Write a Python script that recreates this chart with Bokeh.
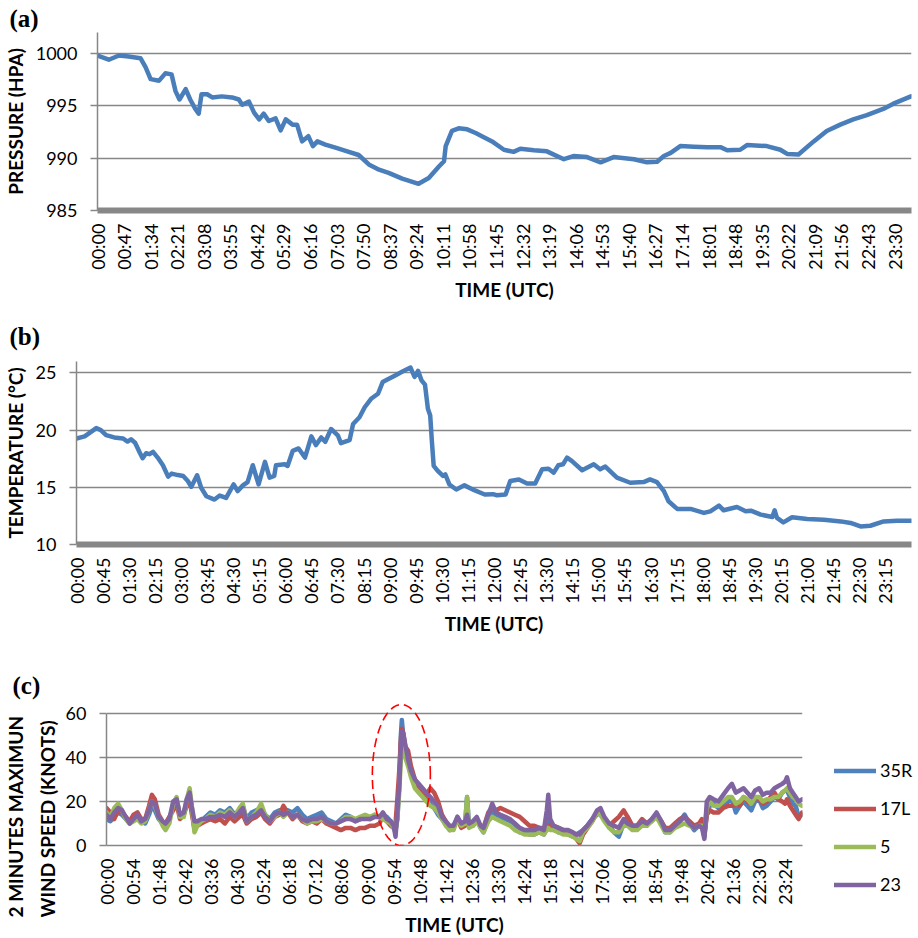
import numpy as np
from bokeh.plotting import figure
from bokeh.layouts import column, row
from bokeh.models import Range1d, FixedTicker, Title, Legend, LegendItem, PolyAnnotation
from bokeh.embed import file_html
from bokeh.resources import INLINE

# ---------------- data (minutes after 00:00 UTC) ----------------
pressure_time = [0, 20, 38, 55, 76, 85, 94, 109, 120, 131,
                 138, 145, 156, 164, 173, 179, 184, 194, 203, 220,
                 238, 250, 256, 268, 277, 286, 294, 303, 315, 324,
                 333, 345, 353, 362, 373, 381, 389, 403, 421, 439,
                 462, 480, 498, 515, 539, 568, 586, 604, 613, 616,
                 627, 639, 654, 669, 680, 698, 719, 736, 748, 772,
                 795, 825, 842, 866, 890, 913, 949, 972, 990, 1002,
                 1014, 1031, 1055, 1079, 1102, 1114, 1137, 1149, 1184, 1208,
                 1220, 1240, 1267, 1290, 1314, 1337, 1361, 1390, 1408, 1439]
pressure_hpa = [999.8, 999.4, 999.8, 999.7, 999.55, 998.7, 997.55, 997.4, 998.1, 998.0,
                996.4, 995.6, 996.6, 995.6, 994.7, 994.25, 996.1, 996.1, 995.8, 995.9,
                995.8, 995.6, 995.1, 995.4, 994.35, 993.7, 994.25, 993.55, 993.8, 992.65,
                993.7, 993.2, 993.2, 991.6, 992.1, 991.15, 991.6, 991.3, 991.0, 990.7,
                990.3, 989.4, 988.9, 988.6, 988.05, 987.55, 988.1, 989.2, 989.7, 991.15,
                992.6, 992.85, 992.75, 992.4, 992.1, 991.6, 990.8, 990.6, 990.9, 990.75,
                990.65, 989.9, 990.2, 990.1, 989.6, 990.1, 989.9, 989.6, 989.65, 990.2,
                990.5, 991.15, 991.1, 991.05, 991.05, 990.75, 990.8, 991.25, 991.15, 990.8,
                990.4, 990.35, 991.6, 992.6, 993.2, 993.7, 994.1, 994.7, 995.2, 995.9]

temp_time = [0, 14, 22, 34, 42, 51, 65, 80, 88, 94,
             101, 109, 114, 120, 126, 132, 140, 149, 158, 164,
             175, 184, 192, 198, 208, 215, 224, 238, 247, 258,
             271, 278, 287, 295, 304, 314, 325, 333, 341, 344,
             359, 364, 373, 383, 394, 405, 413, 422, 429, 439,
             451, 456, 471, 477, 488, 497, 508, 520, 528, 537,
             548, 563, 576, 583, 589, 595, 601, 606, 610, 613,
             616, 623, 632, 636, 643, 655, 669, 686, 704, 718,
             725, 740, 748, 763, 777, 791, 803, 814, 823, 831,
             839, 846, 854, 872, 892, 903, 912, 932, 955, 978,
             989, 1001, 1013, 1021, 1036, 1059, 1082, 1093, 1108, 1116,
             1139, 1154, 1163, 1180, 1200, 1204, 1208, 1219, 1234, 1260,
             1289, 1318, 1335, 1352, 1369, 1392, 1415, 1439]
temp_c = [19.27, 19.45, 19.74, 20.18, 20.0, 19.57, 19.36, 19.27, 19.0, 19.2,
          18.9, 18.04, 17.54, 17.98, 17.9, 18.1, 17.6, 16.93, 15.93, 16.2,
          16.07, 15.99, 15.55, 15.05, 16.05, 14.96, 14.22, 13.93, 14.28, 14.08,
          15.25, 14.67, 15.17, 15.46, 16.93, 15.25, 17.22, 15.84, 15.99, 16.93,
          17.01, 16.87, 18.19, 18.4, 17.6, 19.45, 18.69, 19.36, 18.98, 20.1,
          19.51, 18.86, 19.13, 20.54, 21.12, 22.0, 22.74, 23.18, 24.2, 24.44,
          24.74, 25.15, 25.47, 24.65, 25.18, 24.35, 23.97, 21.86, 21.27, 18.92,
          16.87, 16.43, 15.99, 16.13, 15.25, 14.81, 15.17, 14.75, 14.37, 14.4,
          14.31, 14.37, 15.55, 15.69, 15.34, 15.34, 16.57, 16.63, 16.28, 16.93,
          17.01, 17.6, 17.31, 16.49, 17.01, 16.57, 16.81, 15.84, 15.4, 15.46,
          15.69, 15.46, 14.67, 13.78, 13.11, 13.11, 12.76, 12.9, 13.4, 12.99,
          13.28, 12.9, 12.96, 12.61, 12.4, 12.99, 12.32, 11.93, 12.38, 12.23,
          12.17, 12.02, 11.88, 11.58, 11.64, 12.02, 12.08, 12.08]

wind_time = [0, 8, 16, 24, 32, 40, 48, 56, 64, 72, 80, 88, 94, 100, 108, 116, 122, 130, 138, 145,
             152, 160, 166, 172, 176, 182, 188, 196,
             205, 215, 225, 235, 245, 255, 265, 275, 282, 290, 300, 310, 320, 328, 338, 348, 358, 366,
             375, 385, 395, 405, 415, 425, 435, 445, 455, 465, 475, 485, 495, 505, 515, 525, 535, 545,
             555, 565, 572, 580, 588, 594, 598, 602,
             606, 609, 611, 614, 618, 624, 630, 638, 646, 654, 662, 670, 678, 686, 694, 702, 710, 718,
             726, 734, 742, 746, 750, 758, 766, 774, 780, 790, 798, 806, 815, 825, 835, 845, 855, 865,
             875, 885, 895, 905, 911, 914, 918, 925, 935, 945, 955, 965, 972, 979, 986, 995, 1005, 1015,
             1022, 1030, 1040, 1050, 1060, 1070, 1078, 1088, 1098, 1108, 1118, 1128, 1138, 1148, 1156,
             1166, 1176, 1186, 1196, 1206, 1216, 1226, 1232, 1237,
             1242, 1248, 1256, 1266, 1276, 1286, 1294, 1302, 1310, 1318, 1326, 1334, 1342, 1350, 1358,
             1366, 1374, 1382, 1390, 1398, 1404, 1408, 1414, 1420, 1426, 1432, 1439]
wind_35R = [12, 11, 13, 15, 14, 12, 10, 12, 13, 11, 10, 14, 18, 16, 12, 10, 9, 12, 18, 20,
            14, 15, 20, 23, 18, 7, 10, 11,
            13, 15, 14, 16, 15, 17, 14, 16, 18, 12, 15, 16, 17, 14, 12, 15, 16, 14,
            16, 15, 17, 14, 12, 13, 14, 15, 12, 11, 10, 12, 14, 13, 11, 12, 13, 12,
            14, 13, 14, 13, 11, 9, 7, 12,
            30, 50, 57, 50, 42, 38, 33, 28, 26, 24, 22, 19, 17, 14, 12, 10, 8, 8,
            13, 9, 10, 22, 9, 10, 12, 8, 6, 12, 15, 14, 13, 12, 11, 8, 6, 6,
            5, 5, 6, 5, 12, 16, 8, 8, 6, 6, 5, 4, 5, 6, 7, 9, 12, 14,
            15, 12, 9, 6, 4, 10, 13, 8, 8, 10, 9, 12, 13, 10, 6,
            6, 9, 11, 14, 10, 7, 9, 9, 4,
            14, 18, 19, 17, 18, 20, 21, 15, 18, 20, 18, 16, 20, 21, 17,
            18, 20, 22, 21, 24, 25, 25, 22, 19, 18, 13, 14]
wind_17L = [17, 15, 12, 16, 15, 13, 11, 14, 15, 12, 12, 18, 23, 21, 14, 11, 10, 13, 16, 19,
            12, 14, 18, 21, 15, 8, 9, 10,
            11, 12, 11, 12, 10, 13, 11, 13, 14, 10, 12, 13, 15, 12, 10, 13, 14, 18,
            15, 12, 14, 11, 10, 11, 10, 12, 10, 9, 8, 7, 8, 8, 7, 8, 8, 9,
            9, 10, 14, 11, 9, 8, 10, 22,
            35, 48, 53, 51, 45, 43, 36, 30, 27, 25, 23, 26, 24, 20, 14, 11, 7, 9,
            12, 8, 9, 12, 11, 9, 11, 9, 8, 15, 17, 16, 17, 16, 15, 14, 13, 11,
            9, 9, 8, 8, 9, 9, 9, 9, 8, 7, 6, 5, 3, 1, 5, 8, 11, 15,
            14, 12, 9, 11, 13, 16, 13, 9, 9, 12, 10, 11, 14, 11, 8,
            8, 10, 12, 13, 11, 9, 10, 12, 5,
            14, 16, 15, 15, 17, 18, 18, 19, 18, 22, 20, 19, 22, 21, 19,
            20, 22, 24, 21, 20, 19, 21, 18, 16, 14, 12, 15]
wind_5 = [15, 13, 17, 19, 16, 12, 10, 11, 12, 10, 11, 16, 20, 18, 13, 9, 7, 10, 19, 22,
          13, 13, 21, 26, 19, 6, 9, 11,
          12, 14, 13, 15, 14, 16, 13, 17, 19, 11, 13, 15, 19, 14, 11, 13, 15, 13,
          15, 13, 14, 12, 10, 11, 11, 12, 11, 10, 10, 11, 13, 13, 12, 13, 14, 13,
          14, 13, 12, 11, 10, 8, 6, 14,
          25, 40, 47, 43, 40, 36, 31, 26, 24, 22, 20, 18, 17, 15, 12, 9, 7, 7,
          12, 9, 10, 22, 8, 9, 11, 8, 6, 11, 13, 12, 11, 10, 9, 7, 6, 5,
          5, 5, 6, 5, 7, 8, 7, 7, 6, 5, 5, 4, 3, 2, 6, 8, 11, 15,
          14, 11, 8, 6, 6, 9, 9, 7, 7, 9, 9, 11, 13, 9, 6,
          6, 8, 9, 10, 9, 8, 9, 9, 6,
          17, 20, 18, 18, 20, 22, 22, 19, 20, 22, 21, 19, 22, 22, 20,
          21, 21, 22, 22, 24, 25, 26, 24, 22, 21, 19, 18]
wind_23 = [14, 12, 15, 17, 16, 13, 10, 12, 14, 11, 12, 16, 20, 19, 13, 11, 10, 12, 20, 21,
           14, 15, 21, 24, 18, 11, 11, 12,
           12, 13, 13, 14, 13, 15, 13, 15, 17, 11, 13, 14, 16, 13, 11, 14, 15, 14,
           15, 13, 14, 12, 11, 12, 12, 13, 11, 10, 10, 11, 12, 12, 11, 12, 12, 12,
           13, 13, 15, 12, 11, 9, 4, 16,
           28, 45, 52, 51, 46, 39, 34, 30, 28, 26, 24, 22, 20, 18, 13, 11, 9, 9,
           13, 10, 11, 14, 10, 11, 13, 9, 8, 14, 19, 15, 14, 13, 12, 10, 8, 7,
           7, 7, 8, 7, 16, 23, 12, 9, 8, 7, 7, 6, 5, 5, 7, 9, 12, 16,
           17, 13, 10, 9, 8, 12, 10, 9, 9, 11, 10, 12, 15, 11, 7,
           7, 9, 11, 13, 10, 8, 9, 8, 3,
           20, 22, 21, 20, 23, 26, 28, 24, 25, 26, 24, 22, 25, 26, 23,
           24, 24, 26, 27, 28, 29, 31, 26, 24, 22, 20, 21]
wind_series = ["35R", "17L", "5", "23"]

pressure_ticks = ["00:00", "00:47", "01:34", "02:21", "03:08", "03:55", "04:42", "05:29",
                  "06:16", "07:03", "07:50", "08:37", "09:24", "10:11", "10:58", "11:45",
                  "12:32", "13:19", "14:06", "14:53", "15:40", "16:27", "17:14", "18:01",
                  "18:48", "19:35", "20:22", "21:09", "21:56", "22:43", "23:30"]
temp_ticks = ["00:00", "00:45", "01:30", "02:15", "03:00", "03:45", "04:30", "05:15",
              "06:00", "06:45", "07:30", "08:15", "09:00", "09:45", "10:30", "11:15",
              "12:00", "12:45", "13:30", "14:15", "15:00", "15:45", "16:30", "17:15",
              "18:00", "18:45", "19:30", "20:15", "21:00", "21:45", "22:30", "23:15"]
wind_ticks = ["00:00", "00:54", "01:48", "02:42", "03:36", "04:30", "05:24", "06:18",
              "07:12", "08:06", "09:00", "09:54", "10:48", "11:42", "12:36", "13:30",
              "14:24", "15:18", "16:12", "17:06", "18:00", "18:54", "19:48", "20:42",
              "21:36", "22:30", "23:24"]
pressure_yticks = [985, 990, 995, 1000]
temp_yticks = [10, 15, 20, 25]
wind_yticks = [0, 20, 40, 60]

# highlighted gust (ellipse centre / half-sizes in data units)
gust_center = (610, 32)
gust_half = (60, 32)

# ---------------- styling ----------------
GRID = "#878787"
FONT = "Lato"
SERIF = "Liberation Serif"
LINE_BLUE = "#4A7EBB"
WIND_COLORS = ["#4F81BD", "#C0504D", "#9BBB59", "#8064A2"]


def minutes(labels):
    return [int(s[:2]) * 60 + int(s[3:]) for s in labels]


def make_fig(width, height, left, right, top, bottom, yr, yticks, xlabels, bar,
             tag, tag_offset, tag_standoff, title_standoff):
    p = figure(width=width, height=height, x_range=Range1d(0, 1440), y_range=Range1d(*yr),
               output_backend="svg", toolbar_location=None, title=tag,
               min_border_left=left, min_border_right=right,
               min_border_top=top, min_border_bottom=bottom)
    p.frame_align = False
    p.title.align = "left"
    p.title.offset = tag_offset
    p.title.standoff = tag_standoff
    p.title.vertical_align = "bottom"
    p.title.text_font = SERIF
    p.title.text_font_size = "25px"
    p.title.text_font_style = "bold"
    p.title.text_color = "black"
    p.outline_line_color = None
    p.background_fill_color = "white"
    p.border_fill_color = "white"
    p.xgrid.visible = False
    p.ygrid.grid_line_color = GRID
    p.ygrid.grid_line_width = 1.3
    ya = p.yaxis[0]
    ya.ticker = FixedTicker(ticks=yticks)
    if not bar:
        ya.bounds = (yticks[0], yticks[-1])
    ya.minor_tick_line_color = None
    ya.major_tick_out = 7
    ya.major_tick_in = 0
    ya.major_tick_line_color = GRID
    ya.major_tick_line_width = 1.3
    ya.axis_line_color = GRID
    ya.axis_line_width = 1.5
    ya.major_label_text_font = FONT
    ya.major_label_text_font_size = "18px"
    ya.major_label_text_color = "black"
    ya.major_label_standoff = 13
    ya.axis_label_text_font = FONT
    ya.axis_label_text_font_size = "19px"
    ya.axis_label_text_font_style = "bold"
    ya.axis_label_text_color = "black"
    ya.axis_label_standoff = 6
    xa = p.xaxis[0]
    pos = minutes(xlabels)
    xa.ticker = FixedTicker(ticks=pos)
    xa.major_label_overrides = {t: s for t, s in zip(pos, xlabels)}
    xa.major_label_orientation = np.pi / 2
    xa.major_tick_line_color = None
    xa.major_tick_out = 0
    xa.major_tick_in = 0
    xa.minor_tick_line_color = None
    xa.minor_tick_out = 0
    xa.axis_line_color = GRID
    xa.axis_line_width = 6 if bar else 1.3
    xa.major_label_text_font = FONT
    xa.major_label_text_font_size = "18px"
    xa.major_label_text_color = "black"
    xa.major_label_standoff = 13
    xa.axis_label = "TIME (UTC)"
    xa.axis_label_text_font = FONT
    xa.axis_label_text_font_size = "19px"
    xa.axis_label_text_font_style = "bold"
    xa.axis_label_text_color = "black"
    xa.axis_label_standoff = title_standoff
    return p


# ---- (a) pressure ----
pa = make_fig(916, 306, 97, 5, 32, 96, (985, 1002), pressure_yticks, pressure_ticks, True,
              "(a)", -88, 2, 5)
pa.yaxis[0].axis_label = "PRESSURE (HPA)"
pa.line(pressure_time, pressure_hpa, line_width=4.5, color=LINE_BLUE,
        line_join="round", line_cap="round")

# ---- (b) temperature ----
pb = make_fig(916, 334, 76, 5, 55, 96, (10, 26), temp_yticks, temp_ticks, True,
              "(b)", -67, 23, 5)
pb.yaxis[0].axis_label = "TEMPERATURE (°C)"
pb.line(temp_time, temp_c, line_width=4.5, color=LINE_BLUE,
        line_join="round", line_cap="round")

# ---- (c) wind ----
pc = make_fig(804, 298, 101, 2, 63, 92, (0, 64.5), wind_yticks, wind_ticks, False,
              "(c)", -94, 9, 5)
for vals, col in zip([wind_35R, wind_17L, wind_5, wind_23], WIND_COLORS):
    pc.line(wind_time, vals, line_width=4.5, color=col, line_join="round", line_cap="round")
th = np.linspace(0, 2 * np.pi, 160)
pc.add_layout(PolyAnnotation(xs=list(gust_center[0] + gust_half[0] * np.cos(th)),
                             ys=list(gust_center[1] + gust_half[1] * np.sin(th)),
                             fill_color=None, fill_alpha=0, line_color="#FF0000",
                             line_alpha=1.0, line_dash="9 5", line_width=1.6))
ytitle = Title(text="2 MINUTES MAXIMUN\nWIND SPEED (KNOTS)", align="left", offset=-72,
               vertical_align="middle", standoff=6, text_font=FONT, text_font_size="19px",
               text_font_style="bold", text_color="black", text_line_height=1.35)
pc.add_layout(ytitle, "left")

# legend panel to the right of (c): same series, plotted outside its visible range
pl = figure(width=112, height=298, x_range=Range1d(-20, -10), y_range=Range1d(0, 60),
            output_backend="svg", toolbar_location=None,
            x_axis_location=None, y_axis_location=None,
            min_border_left=0, min_border_right=0, min_border_top=0, min_border_bottom=0)
pl.frame_align = False
pl.grid.visible = False
pl.outline_line_color = None
items = []
for name, vals, col in zip(wind_series, [wind_35R, wind_17L, wind_5, wind_23], WIND_COLORS):
    r = pl.line(wind_time, vals, line_width=4.5, color=col, line_cap="round")
    items.append(LegendItem(label=name, renderers=[r]))
legend = Legend(items=items, location=(30, 36.5), orientation="vertical",
                glyph_width=42, glyph_height=35, label_height=35, spacing=3,
                padding=0, margin=0, label_standoff=4,
                border_line_alpha=0, background_fill_alpha=0,
                label_text_font=FONT, label_text_font_size="18px", label_text_color="black")
pl.add_layout(legend)

layout = column(pa, pb, row(pc, pl, spacing=0), spacing=0)
open("out.html", "w").write(file_html(layout, INLINE))
